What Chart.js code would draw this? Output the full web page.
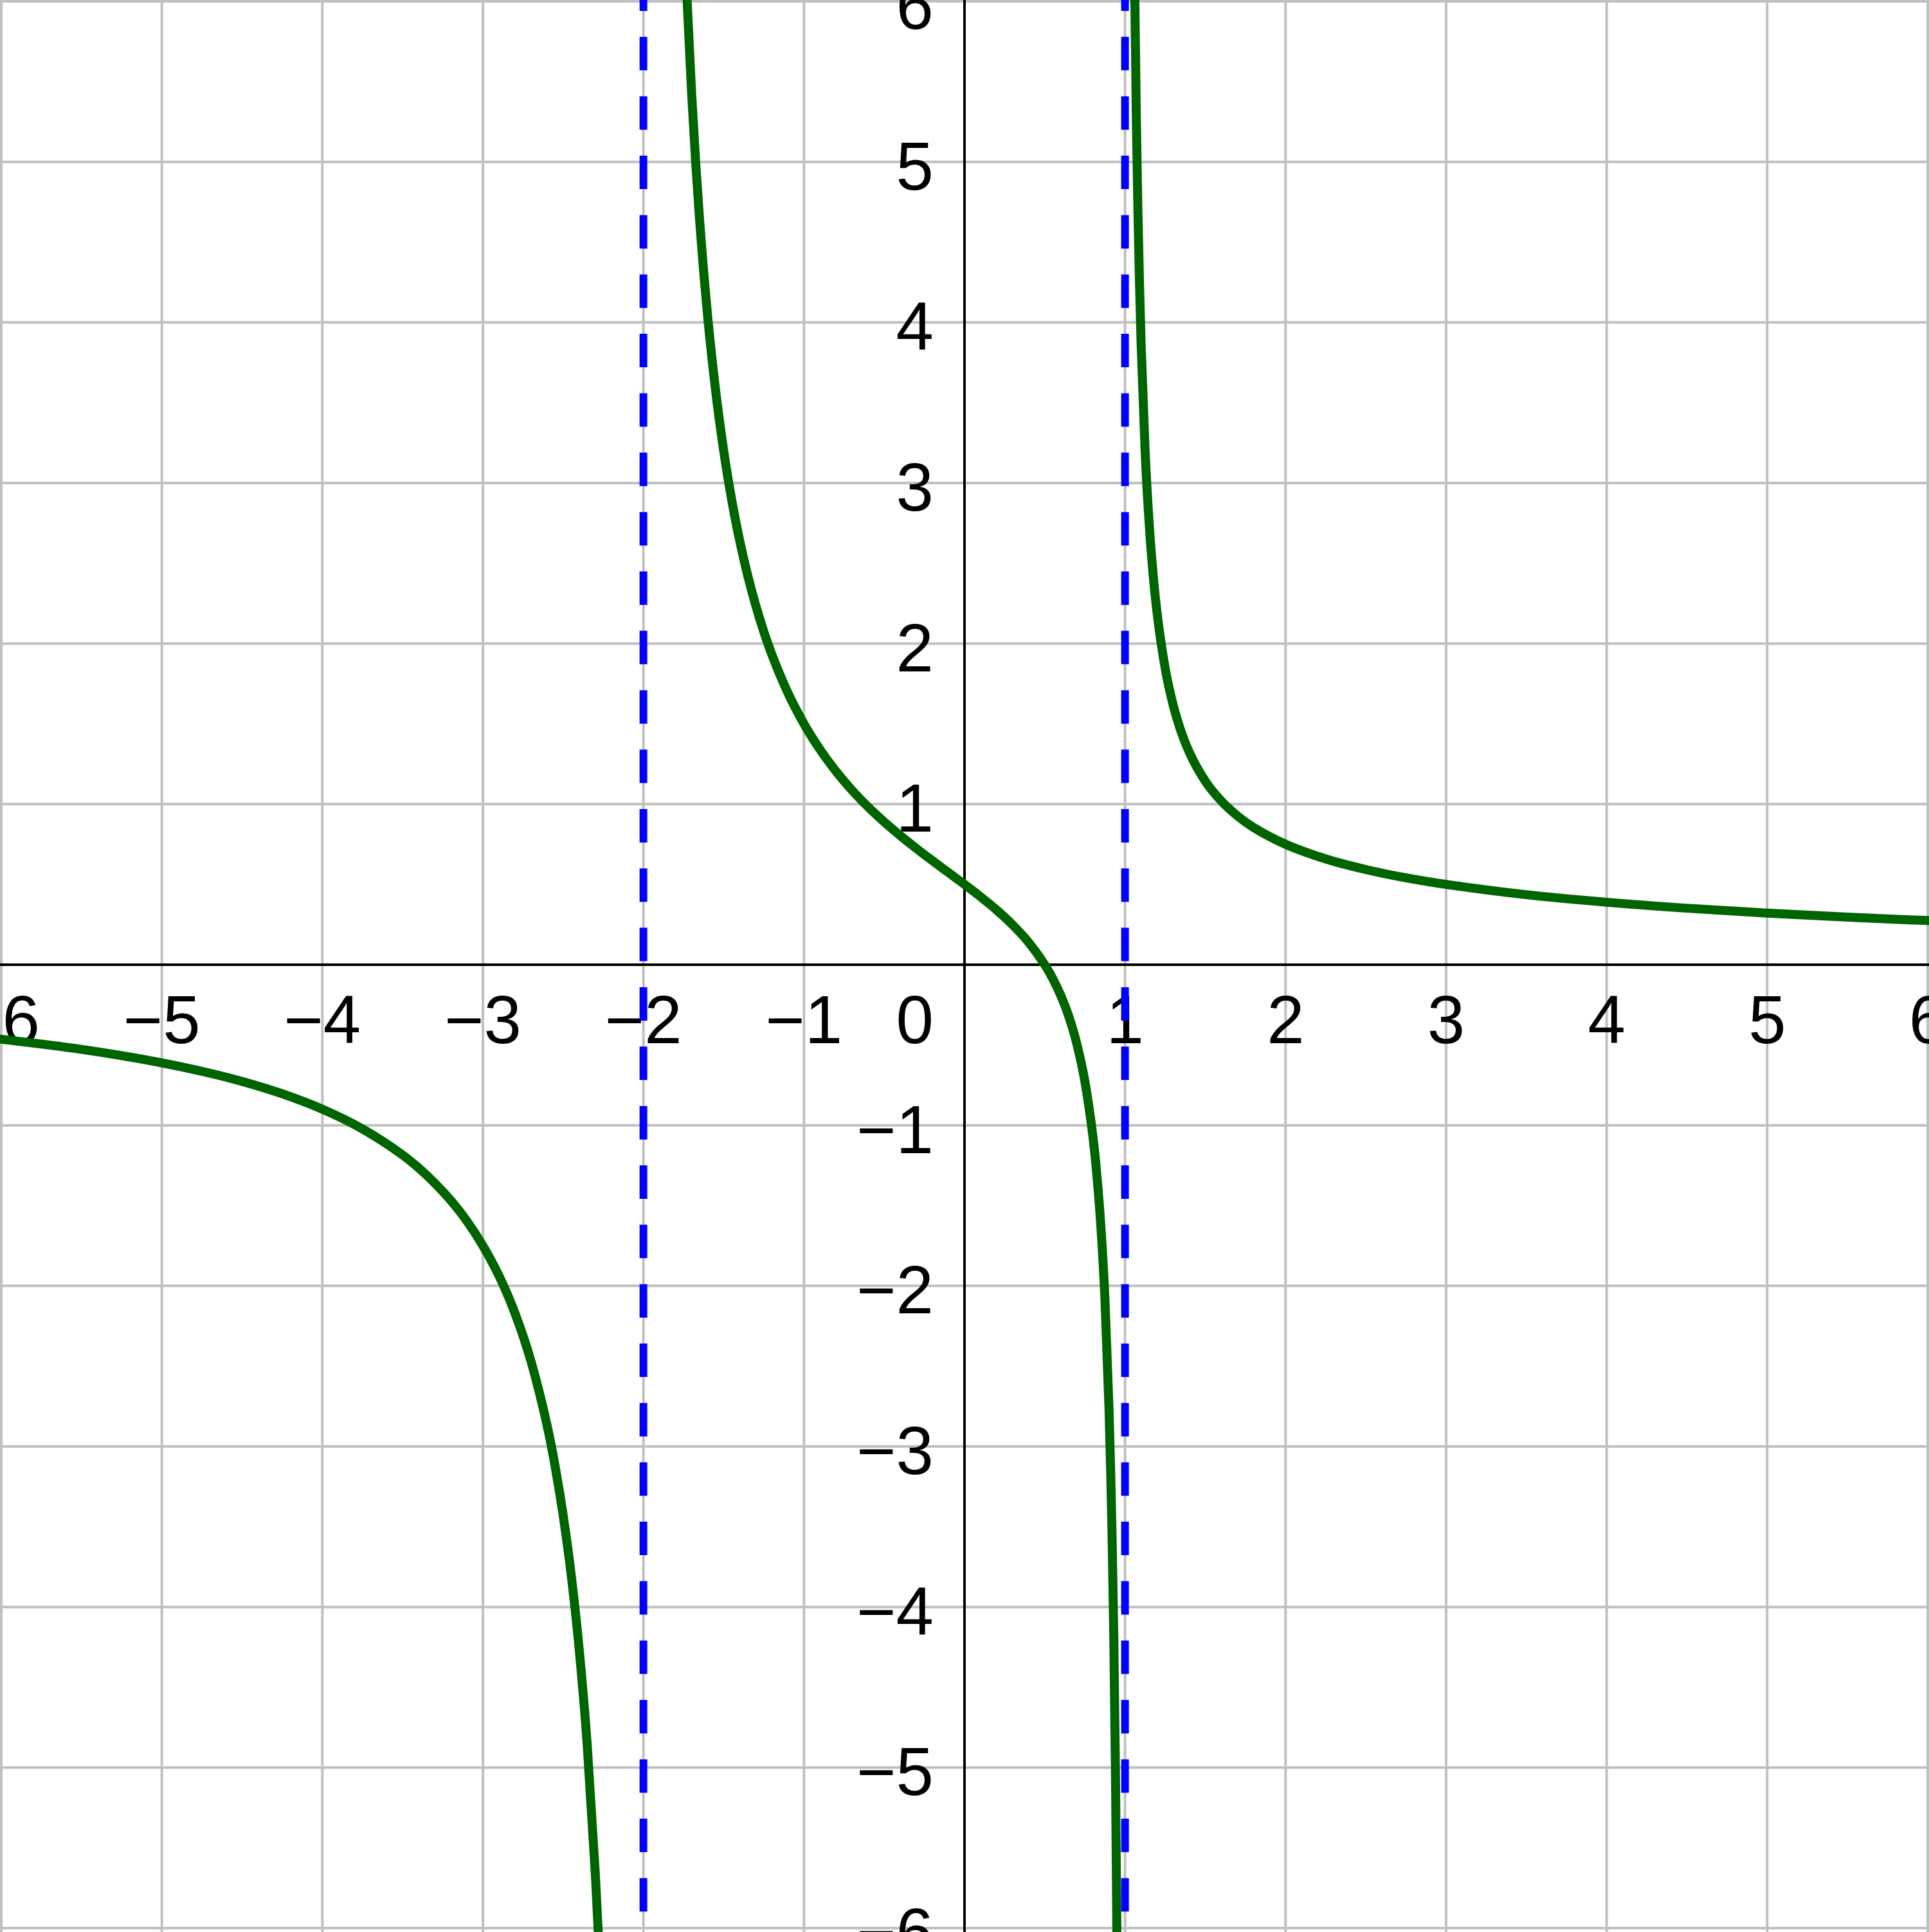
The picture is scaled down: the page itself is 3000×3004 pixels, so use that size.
<!DOCTYPE html>
<html>
<head>
<meta charset="utf-8">
<script src="https://cdn.jsdelivr.net/npm/chart.js@4"></script>
<style>
  html, body { margin: 0; padding: 0; background: #fff; }
  #wrap { width: 3000px; height: 3004px; }
</style>
</head>
<body>
<div id="wrap"><canvas id="myChart" width="3000" height="3004"></canvas></div>
<script>
// values
const leftX  = [-6.1, -6, -5.75, -5.5, -5.25, -5, -4.75, -4.5, -4.25, -4, -3.75, -3.5, -3.4, -3.3, -3.2, -3.1, -3, -2.9, -2.8, -2.7, -2.6, -2.55, -2.5, -2.45, -2.4, -2.35, -2.3, -2.28, -2.26];
const leftY  = [-0.453, -0.464, -0.494, -0.527, -0.566, -0.611, -0.664, -0.727, -0.804, -0.9, -1.023, -1.185, -1.266, -1.36, -1.468, -1.596, -1.75, -1.937, -2.171, -2.471, -2.87, -3.124, -3.429, -3.8, -4.265, -4.861, -5.657, -6.054, -6.513];
const midX   = [-1.75, -1.73, -1.7, -1.675, -1.65, -1.625, -1.6, -1.55, -1.5, -1.45, -1.4, -1.35, -1.3, -1.25, -1.2, -1.1, -1, -0.9, -0.8, -0.7, -0.6, -0.5, -0.4, -0.3, -0.2, -0.1, 0, 0.1, 0.2, 0.3, 0.4, 0.5, 0.55, 0.6, 0.65, 0.7, 0.75, 0.8, 0.825, 0.85, 0.875, 0.9, 0.91, 0.92, 0.93, 0.94, 0.95, 0.96];
const midY   = [6.545, 6.051, 5.432, 5.004, 4.636, 4.317, 4.038, 3.573, 3.2, 2.894, 2.639, 2.422, 2.236, 2.074, 1.932, 1.693, 1.5, 1.34, 1.204, 1.086, 0.982, 0.889, 0.804, 0.724, 0.648, 0.574, 0.5, 0.423, 0.341, 0.248, 0.139, 0, -0.087, -0.192, -0.323, -0.494, -0.727, -1.071, -1.315, -1.637, -2.087, -2.759, -3.131, -3.596, -4.193, -4.989, -6.102, -7.77];
const rightX = [1.04, 1.05, 1.06, 1.07, 1.08, 1.09, 1.1, 1.125, 1.15, 1.175, 1.2, 1.25, 1.3, 1.35, 1.4, 1.5, 1.6, 1.7, 1.8, 2, 2.25, 2.5, 2.75, 3, 3.5, 4, 4.5, 5, 5.5, 6, 6.1];
const rightY = [8.882, 7.213, 6.1, 5.305, 4.708, 4.243, 3.871, 3.2, 2.751, 2.43, 2.188, 1.846, 1.616, 1.45, 1.324, 1.143, 1.019, 0.927, 0.855, 0.75, 0.659, 0.593, 0.541, 0.5, 0.436, 0.389, 0.352, 0.321, 0.296, 0.275, 0.271];
const asymptotes = [-2, 1];
const xTicks = [-6, -5, -4, -3, -2, -1, 1, 2, 3, 4, 5, 6];
const yTicks = [-6, -5, -4, -3, -2, -1, 1, 2, 3, 4, 5, 6];
const xMin = -6.008, xMax = 6.008, yMin = -6.024, yMax = 6.008;

const toPts = (xs, ys) => xs.map((x, i) => ({ x: x, y: ys[i] }));
const lbl = v => (v < 0 ? "\u2212" + Math.abs(v) : String(v));

const curveStyle = {
  showLine: true, borderColor: "#006400", borderWidth: 14, pointRadius: 0,
  cubicInterpolationMode: "monotone", fill: false
};

let datasets = asymptotes.map(a => ({
  data: [{ x: a, y: yMax }, { x: a, y: yMin }],
  showLine: true, borderColor: "#0000ff", borderWidth: 12, pointRadius: 0,
  borderDash: [52, 40.35], borderDashOffset: 35, borderCapStyle: "butt", fill: false
}));
datasets.push(Object.assign({ data: toPts(leftX, leftY) }, curveStyle));
datasets.push(Object.assign({ data: toPts(midX, midY) }, curveStyle));
datasets.push(Object.assign({ data: toPts(rightX, rightY) }, curveStyle));

// grid, axes and tick labels placed with the chart's own scales
const backdrop = {
  id: "backdrop",
  beforeDatasetsDraw(chart) {
    const ctx = chart.ctx;
    const sx = chart.scales.x, sy = chart.scales.y;
    const W = chart.width, H = chart.height;
    const ox = sx.getPixelForValue(0), oy = sy.getPixelForValue(0);
    ctx.save();
    ctx.strokeStyle = "#c0c0c0";
    ctx.lineWidth = 4;
    xTicks.forEach(v => {
      const p = sx.getPixelForValue(v);
      ctx.beginPath(); ctx.moveTo(p, 0); ctx.lineTo(p, H); ctx.stroke();
    });
    yTicks.forEach(v => {
      const p = sy.getPixelForValue(v);
      ctx.beginPath(); ctx.moveTo(0, p); ctx.lineTo(W, p); ctx.stroke();
    });
    ctx.strokeStyle = "#000";
    ctx.beginPath(); ctx.moveTo(0, oy); ctx.lineTo(W, oy); ctx.stroke();
    ctx.beginPath(); ctx.moveTo(ox, 0); ctx.lineTo(ox, H); ctx.stroke();

    ctx.fillStyle = "#000";
    ctx.font = "105px 'Liberation Sans', Arial, sans-serif";
    ctx.textBaseline = "alphabetic";
    ctx.textAlign = "center";
    xTicks.forEach(v => ctx.fillText(lbl(v), sx.getPixelForValue(v), oy + 122));
    ctx.textAlign = "right";
    yTicks.forEach(v => ctx.fillText(lbl(v), ox - 48, sy.getPixelForValue(v) + 43));
    ctx.fillText("0", ox - 48, oy + 122);
    ctx.restore();
  }
};

new Chart(document.getElementById("myChart").getContext("2d"), {
  type: "scatter",
  data: { datasets: datasets },
  options: {
    responsive: false,
    devicePixelRatio: 1,
    animation: false,
    layout: { padding: 0 },
    plugins: { legend: { display: false }, tooltip: { enabled: false } },
    scales: {
      x: { type: "linear", min: xMin, max: xMax, display: false },
      y: { type: "linear", min: yMin, max: yMax, display: false }
    }
  },
  plugins: [backdrop]
});
</script>
</body>
</html>
